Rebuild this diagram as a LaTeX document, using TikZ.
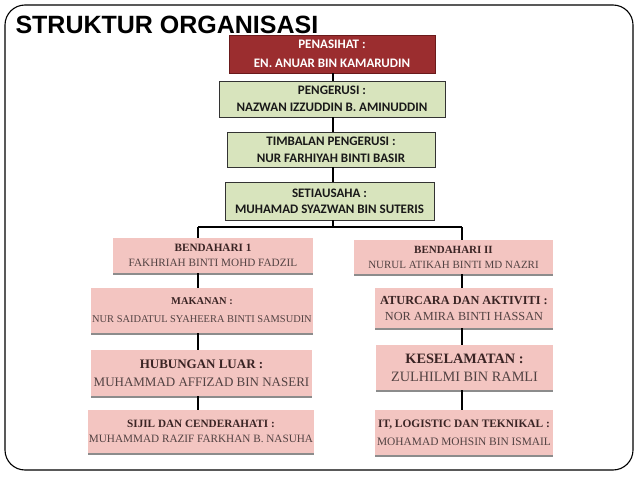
\documentclass[tikz,border=0pt]{standalone}
\usepackage{fontspec}
\setmainfont{Liberation Serif}
\newfontfamily\titlefont{Liberation Sans}
\newfontfamily\calfont{Carlito}
\usepackage{xcolor}
\usepackage{tikz}
\usetikzlibrary{shadows}

\definecolor{advred}{HTML}{9B2D2F}
\definecolor{advedge}{HTML}{6A1A1B}
\definecolor{leadgreen}{HTML}{D8E4BD}
\definecolor{ajkpink}{HTML}{F3C5C1}
\definecolor{ajktext}{HTML}{3A2424}
\definecolor{ajkname}{HTML}{524242}

\newcommand{\post}[2]{{\bfseries\color{ajktext}#1}\\#2}

\begin{document}
\begin{tikzpicture}[x=1pt, y=-1pt,
  redbox/.style={draw=advedge, line width=0.8pt, fill=advred, text=white, align=center,
    inner sep=0pt, font=\calfont\bfseries\fontsize{13}{19}\selectfont},
  greenbox/.style={draw=black!80, line width=0.8pt, fill=leadgreen, text=black!90, align=center,
    inner sep=0pt, font=\calfont\bfseries\fontsize{13}{17}\selectfont},
  pinkbox/.style={fill=ajkpink, text=ajkname, align=center, inner sep=0pt,
    drop shadow={shadow xshift=0pt, shadow yshift=-2pt, fill=black!45, opacity=1}},
  link/.style={line width=1.4pt}]
  \useasboundingbox (0,0) rectangle (638,479);
  \draw[line width=1.1pt, rounded corners=20pt] (5,5) rectangle (633,470);
  \node[anchor=base west, font=\titlefont\bfseries\fontsize{25}{30}\selectfont] (title) at (12,33) {STRUKTUR ORGANISASI};

  % top of the chart
  \node[redbox, minimum width=206pt, minimum height=38pt] (pen) at (332,54) {PENASIHAT :\\EN. ANUAR BIN KAMARUDIN};
  \node[greenbox, minimum width=226pt, minimum height=36pt] (peng) at (332,99) {PENGERUSI :\\NAZWAN IZZUDDIN B. AMINUDDIN};
  \node[greenbox, minimum width=208pt, minimum height=35pt] (tim) at (331,149.5) {TIMBALAN PENGERUSI :\\NUR FARHIYAH BINTI BASIR};
  \node[greenbox, minimum width=209pt, minimum height=38pt, font=\calfont\bfseries\fontsize{13}{16}\selectfont] (set) at (329.5,201) {SETIAUSAHA :\\MUHAMAD SYAZWAN BIN SUTERIS};

  % left column
  \node[pinkbox, minimum width=200pt, minimum height=35pt, font=\fontsize{11.2}{15}\selectfont] (ben1) at (213,255.5) {\post{BENDAHARI 1}{FAKHRIAH BINTI MOHD FADZIL}};
  \node[pinkbox, minimum width=222pt, minimum height=45pt, font=\fontsize{10.4}{18}\selectfont] (mak) at (202,310.5) {\post{MAKANAN :}{NUR SAIDATUL SYAHEERA BINTI SAMSUDIN}};
  \node[pinkbox, minimum width=221pt, minimum height=46pt, font=\fontsize{13}{18}\selectfont] (hub) at (201.5,373) {\post{HUBUNGAN LUAR :}{MUHAMMAD AFFIZAD BIN NASERI}};
  \node[pinkbox, minimum width=226pt, minimum height=43pt, font=\fontsize{11.2}{15}\selectfont] (sij) at (201,431.5) {\post{SIJIL DAN CENDERAHATI :}{MUHAMMAD RAZIF FARKHAN B. NASUHA}};

  % right column
  \node[pinkbox, minimum width=199pt, minimum height=34pt, font=\fontsize{11}{15}\selectfont] (ben2) at (453.5,257) {\post{BENDAHARI II}{NURUL ATIKAH BINTI MD NAZRI}};
  \node[pinkbox, minimum width=178pt, minimum height=40pt, font=\fontsize{12.3}{16}\selectfont] (atu) at (464,308) {\post{ATURCARA DAN AKTIVITI :}{NOR AMIRA BINTI HASSAN}};
  \node[pinkbox, minimum width=177pt, minimum height=45pt, font=\fontsize{14.3}{18}\selectfont] (kes) at (464.5,367.5) {\post{KESELAMATAN :}{ZULHILMI BIN RAMLI}};
  \node[pinkbox, minimum width=178pt, minimum height=45pt, font=\fontsize{11.4}{18}\selectfont] (it) at (464,432.5) {\post{IT, LOGISTIC DAN TEKNIKAL :}{MOHAMAD MOHSIN BIN ISMAIL}};

  % connectors
  \coordinate (bus) at (333,227);
  \coordinate (busl) at (198,227);
  \coordinate (busr) at (462,227);
  \draw[link] (pen.south -| bus) -- (peng.north -| bus);
  \draw[link] (peng.south -| bus) -- (tim.north -| bus);
  \draw[link] (tim.south -| bus) -- (set.north -| bus);
  \draw[link] (set.south -| bus) -- (bus);
  \draw[link] (busl) -- (busr);
  \draw[link] (busl) -- (ben1.north -| busl);
  \draw[link] (busr) -- (ben2.north -| busr);
  \draw[link] (ben1.south -| busl) -- (mak.north -| busl);
  \draw[link] (mak.south -| busl) -- (hub.north -| busl);
  \draw[link] (hub.south -| busl) -- (sij.north -| busl);
  \draw[link] (ben2.south -| busr) -- (atu.north -| busr);
  \draw[link] (atu.south -| busr) -- (kes.north -| busr);
  \draw[link] (kes.south -| busr) -- (it.north -| busr);
\end{tikzpicture}
\end{document}
